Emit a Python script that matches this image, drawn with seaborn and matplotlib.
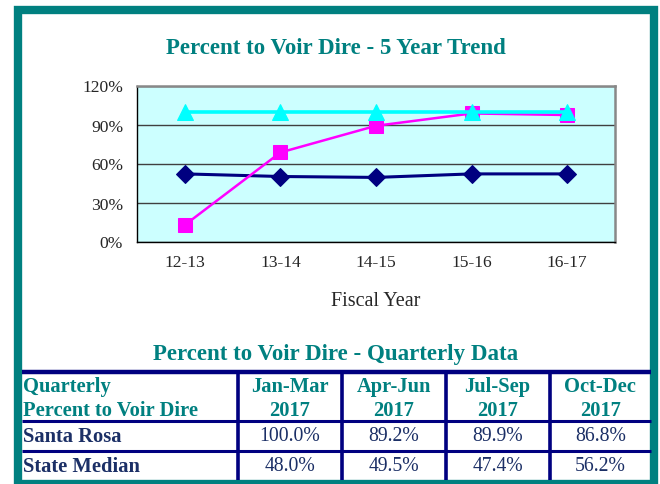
import numpy as np
import pandas as pd
import matplotlib
matplotlib.use("Agg")
import matplotlib.pyplot as plt
import seaborn as sns

# trend data
years = ["12-13", "13-14", "14-15", "15-16", "16-17"]
state_median = [52, 50, 49.3, 52, 52]
santa_rosa = [12.7, 68.5, 89, 98.5, 97.3]
target = [100, 100, 100, 100, 100]

# quarterly table
quarters = ["Jan-Mar\n2017", "Apr-Jun\n2017", "Jul-Sep\n2017", "Oct-Dec\n2017"]
row_names = ["Santa Rosa", "State Median"]
santa_rosa_q = ["100.0%", "89.2%", "89.9%", "86.8%"]
state_median_q = ["48.0%", "49.5%", "47.4%", "56.2%"]

TEAL = "#008080"
NAVY = "#000080"
TXT = "#1B2F66"
W, H = 660, 485

sns.set_style("white")
plt.rcParams["font.family"] = ["Liberation Serif", "DejaVu Serif"]

fig = plt.figure(figsize=(W / 100, H / 100), dpi=100)

# background axes in pixel coordinates for border + table
bg = fig.add_axes([0, 0, 1, 1], zorder=0)
bg.set_xlim(0, W)
bg.set_ylim(H, 0)
bg.axis("off")
bg.add_patch(plt.Rectangle((18, 11), 636, 474, fill=False, edgecolor=TEAL, lw=6))

bg.text(336, 48, "Percent to Voir Dire - 5 Year Trend", ha="center", va="center",
        color=TEAL, fontsize=16.5, fontweight="bold")
bg.text(336, 355, "Percent to Voir Dire - Quarterly Data", ha="center", va="center",
        color=TEAL, fontsize=16.5, fontweight="bold")

# table grid
x_left, x_right = 22, 651
bg.plot([x_left, x_right], [373, 373], color=NAVY, lw=3.2, solid_capstyle="butt")
for yy in [422, 452]:
    bg.plot([x_left, x_right], [yy, yy], color=NAVY, lw=2.2, solid_capstyle="butt")
col_edges = [237.5, 342, 445.5, 549.5, 651]
for xx in col_edges[:-1]:
    bg.plot([xx, xx], [374, 481], color=NAVY, lw=2.6, solid_capstyle="butt")

bg.text(23, 387, "Quarterly", ha="left", va="center", color=TEAL,
        fontsize=14.8, fontweight="bold")
bg.text(23, 411, "Percent to Voir Dire", ha="left", va="center", color=TEAL,
        fontsize=14.8, fontweight="bold")
centers = [(col_edges[i] + col_edges[i + 1]) / 2 for i in range(4)]
for cx, q in zip(centers, quarters):
    top, bot = q.split("\n")
    bg.text(cx, 387, top, ha="center", va="center", color=TEAL, fontsize=14.8, fontweight="bold")
    bg.text(cx, 411, bot, ha="center", va="center", color=TEAL, fontsize=14.8, fontweight="bold")

for ry, name, vals in zip([437, 467], row_names, [santa_rosa_q, state_median_q]):
    bg.text(23, ry, name, ha="left", va="center", color=TXT, fontsize=14.8, fontweight="bold")
    for cx, v in zip(centers, vals):
        bg.text(cx, ry, v, ha="center", va="center", color=TXT, fontsize=14.2)

# trend plot
ax = fig.add_axes([137 / W, 1 - 242.5 / H, (615 - 137) / W, (242.5 - 86.5) / H], zorder=1)
ax.set_facecolor("#CCFFFF")

df = pd.DataFrame({"year": years * 3,
                   "value": state_median + santa_rosa + target,
                   "series": ["State Median"] * 5 + ["Santa Rosa"] * 5 + ["Target"] * 5})

styles = {"State Median": (NAVY, "D", 9, 2.2),
          "Santa Rosa": ("#FF00FF", "s", 10, 1.8),
          "Target": ("#00FFFF", "^", 11, 2.6)}
for name, (c, m, ms, lw) in styles.items():
    sub = df[df["series"] == name]
    sns.lineplot(data=sub, x="year", y="value", ax=ax, color=c, marker=m,
                 markersize=ms, markeredgecolor=c, lw=lw, legend=False)

ax.set_xlim(-0.5, 4.5)
ax.set_ylim(0, 120)
ax.set_yticks([0, 30, 60, 90, 120])
ax.set_yticklabels([f"{v}%" for v in [0, 30, 60, 90, 120]])
ax.set_xticks(range(5))
ax.set_xticks(np.arange(-0.5, 5, 1), minor=True)
ax.grid(axis="y", color="#404040", lw=1)
ax.grid(axis="x", visible=False)
ax.tick_params(axis="x", which="major", length=0, pad=9, labelsize=12.6)
ax.tick_params(axis="x", which="minor", length=4, width=1, color="black", direction="out")
ax.tick_params(axis="y", length=4, width=1, color="black", direction="out", pad=6, labelsize=12.6)
ax.set_ylabel("")
ax.set_xlabel("Fiscal Year", fontsize=14.5, labelpad=15)
for side in ["top", "right"]:
    ax.spines[side].set_color("#888888")
    ax.spines[side].set_linewidth(1.8)
for side in ["left", "bottom"]:
    ax.spines[side].set_color("black")
    ax.spines[side].set_linewidth(1)

fig.savefig("out.png", dpi=100)
